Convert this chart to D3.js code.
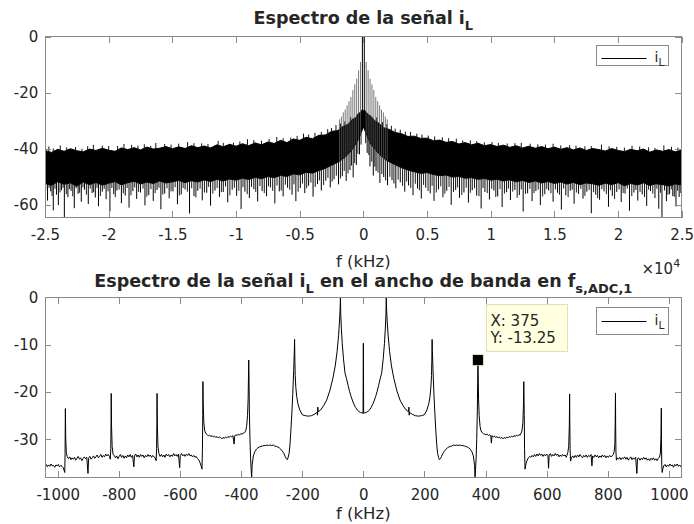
<!DOCTYPE html>
<html>
<head>
<meta charset="utf-8">
<script src="https://cdn.jsdelivr.net/npm/d3@7"></script>
<style>
  body { margin: 0; background: #fff; }
  text { font-family: "DejaVu Sans", sans-serif; fill: #262626; }
</style>
</head>
<body>
<svg id="chart" width="694" height="524"></svg>
<script>
// ---------- Full spectrum of i_L (f in kHz, magnitude in dB) ----------
// Dense noise floor: [f, upper edge, lower edge]
const fullBand = [
  [-25000,-40.6,-52.4],[-24500,-41.3,-53.1],[-24000,-40.2,-51.8],[-23500,-40.9,-52.7],[-23000,-40.0,-52.2],
  [-22500,-40.7,-53.4],[-22000,-41.1,-51.9],[-21500,-40.1,-52.8],[-21000,-40.6,-52.0],[-20500,-39.8,-53.0],
  [-20000,-40.5,-52.3],[-19500,-40.9,-51.7],[-19000,-39.7,-52.9],[-18500,-40.3,-52.1],[-18000,-39.6,-51.6],
  [-17500,-40.4,-52.6],[-17000,-39.4,-51.9],[-16500,-40.1,-52.4],[-16000,-39.8,-51.5],[-15500,-39.2,-52.2],
  [-15000,-40.0,-51.8],[-14500,-39.3,-51.3],[-14000,-39.9,-52.1],[-13500,-38.9,-51.4],[-13000,-39.6,-51.9],
  [-12500,-39.0,-51.1],[-12000,-39.7,-51.7],[-11500,-38.6,-50.9],[-11000,-39.3,-51.5],[-10500,-38.4,-50.8],
  [-10000,-39.1,-51.2],[-9500,-38.2,-50.5],[-9000,-38.9,-51.0],[-8500,-37.9,-50.2],[-8000,-38.6,-50.7],
  [-7500,-37.6,-49.9],[-7000,-38.1,-50.3],[-6500,-37.0,-49.5],[-6000,-37.8,-49.9],[-5500,-36.5,-49.0],
  [-5000,-37.0,-49.3],[-4500,-35.9,-48.4],[-4000,-36.4,-48.7],[-3500,-35.2,-47.8],
  [-3000,-35.1,-47.0],[-2500,-33.8,-45.9],[-2000,-33.5,-44.8],[-1600,-32.0,-43.6],[-1200,-31.3,-42.0],
  [-900,-29.6,-40.4],[-600,-28.9,-38.3],[-400,-27.4,-36.8],[-200,-27.0,-34.6],[-80,-26.0,-33.2],
  [0,-26.6,-32.0],
  [80,-26.1,-33.0],[200,-26.9,-34.4],[400,-27.8,-36.6],[600,-28.4,-38.5],[900,-30.0,-40.1],
  [1200,-30.8,-41.7],[1600,-32.5,-43.4],[2000,-33.0,-44.6],[2500,-34.2,-45.7],[3000,-34.6,-46.8],
  [3500,-35.6,-47.6],[4000,-35.5,-48.2],[4500,-36.3,-48.8],[5000,-36.2,-48.5],[5500,-37.1,-49.2],
  [6000,-36.9,-49.6],[6500,-37.7,-49.4],[7000,-37.4,-50.1],[7500,-38.3,-49.9],[8000,-37.8,-50.5],
  [8500,-38.6,-50.3],[9000,-38.0,-50.9],[9500,-38.9,-50.6],[10000,-38.5,-51.2],[10500,-39.2,-50.9],
  [11000,-38.7,-51.5],[11500,-39.5,-51.1],[12000,-38.9,-51.8],[12500,-39.7,-51.3],[13000,-39.1,-52.0],
  [13500,-39.8,-51.5],[14000,-39.2,-52.2],[14500,-40.0,-51.7],[15000,-39.4,-52.4],[15500,-40.2,-51.9],
  [16000,-39.6,-52.6],[16500,-40.4,-52.0],[17000,-39.7,-52.8],[17500,-40.6,-52.2],[18000,-39.9,-52.5],
  [18500,-40.3,-53.0],[19000,-40.8,-52.3],[19500,-39.9,-52.8],[20000,-40.6,-52.1],[20500,-41.0,-53.2],
  [21000,-40.2,-52.4],[21500,-40.7,-52.9],[22000,-40.1,-52.2],[22500,-41.2,-53.1],[23000,-40.4,-52.5],
  [23500,-40.9,-52.8],[24000,-40.3,-53.3],[24500,-41.1,-52.6],[25000,-40.5,-52.9]
];

// Deep bins below the noise floor: [f, dB]
const fullDips = [
  [-24800,-58.5],[-24550,-55.2],[-24350,-62.0],[-24100,-56.4],[-23950,-60.1],[-23700,-54.8],[-23480,-64.6],
  [-23200,-57.3],[-22950,-55.0],[-22700,-61.2],[-22400,-56.1],[-22150,-58.9],[-21900,-54.6],[-21600,-59.7],
  [-21300,-55.8],[-21050,-57.4],[-20800,-60.5],[-20500,-55.3],[-20200,-58.0],[-19900,-62.3],[-19600,-56.2],
  [-19350,-54.9],[-19000,-59.4],[-18700,-56.7],[-18400,-61.0],[-18100,-55.1],[-17800,-57.9],[-17500,-55.6],
  [-17150,-60.2],[-16850,-56.5],[-16500,-58.6],[-16200,-54.7],[-15900,-61.6],[-15600,-56.0],[-15250,-57.7],
  [-14950,-55.2],[-14600,-59.8],[-14300,-56.3],[-14000,-54.5],[-13650,-63.1],[-13300,-56.9],[-13000,-55.0],
  [-12650,-58.4],[-12300,-55.7],[-12000,-60.3],[-11650,-54.9],[-11300,-57.2],[-11000,-55.4],[-10650,-59.1],
  [-10300,-54.6],[-9950,-56.8],[-9600,-61.5],[-9300,-55.3],[-8950,-57.6],[-8600,-54.4],[-8300,-58.8],
  [-7950,-55.1],[-7600,-56.9],[-7300,-53.8],[-6950,-59.5],[-6600,-55.2],[-6300,-57.0],[-5950,-53.9],
  [-5600,-56.4],[-5300,-58.7],[-4950,-54.0],[-4600,-55.8],[-4300,-53.2],[-3950,-57.1],[-3600,-52.6],
  [-3300,-54.9],[-2950,-51.4],[-2600,-53.8],[-2300,-50.9],[-1950,-52.7],[-1650,-49.8],[-1350,-51.5],
  [-1050,-47.6],[-800,-50.2],[-550,-45.8],[-300,-42.0],
  [300,-41.5],[520,-46.3],[780,-49.6],[1000,-47.9],[1300,-52.2],[1600,-50.1],[1900,-53.0],[2250,-51.2],
  [2550,-54.1],[2900,-52.0],[3250,-55.3],[3550,-53.1],[3900,-56.6],[4250,-54.2],[4550,-57.8],[4900,-53.9],
  [5250,-55.9],[5550,-58.6],[5900,-54.5],[6250,-57.3],[6550,-55.0],[6900,-60.0],[7250,-54.7],[7550,-57.5],
  [7900,-55.6],[8250,-59.2],[8550,-54.8],[8900,-56.7],[9250,-61.3],[9550,-55.4],[9900,-58.1],[10250,-54.9],
  [10550,-57.0],[10900,-60.8],[11250,-55.5],[11550,-58.3],[11900,-54.7],[12250,-56.5],[12550,-62.4],
  [12900,-55.9],[13250,-58.7],[13550,-55.1],[13900,-60.1],[14250,-56.2],[14550,-54.9],[14900,-58.9],
  [15250,-55.7],[15550,-61.7],[15900,-56.6],[16250,-55.0],[16550,-59.6],[16900,-56.1],[17250,-57.8],
  [17550,-55.3],[17900,-63.0],[18250,-56.4],[18550,-58.2],[18900,-55.2],[19250,-60.7],[19550,-56.8],
  [19900,-55.4],[20250,-59.0],[20550,-56.0],[20900,-62.1],[21250,-55.6],[21550,-58.5],[21900,-56.3],
  [22250,-60.4],[22550,-55.1],[22900,-57.6],[23200,-61.4],[23450,-64.6],[23800,-58.7],[24050,-56.2],
  [24300,-56.9],[24550,-60.6],[24800,-57.2]
];

// Shorter bins just under the floor: [f, dB]
const fullShallowDips = [
  [-24950,-55.1],[-24680,-54.0],[-24450,-56.8],[-24220,-54.3],[-23820,-55.6],[-23580,-53.9],[-23330,-56.2],
  [-23080,-54.4],[-22820,-57.0],[-22560,-54.1],[-22280,-55.7],[-22020,-53.8],[-21750,-56.4],[-21450,-54.2],
  [-21180,-55.5],[-20920,-53.9],[-20650,-56.9],[-20350,-54.3],[-20050,-55.2],[-19750,-54.0],[-19480,-57.3],
  [-19180,-54.6],[-18850,-55.9],[-18550,-54.0],[-18250,-56.6],[-17950,-53.8],[-17650,-55.4],[-17300,-54.2],
  [-17000,-57.1],[-16680,-54.4],[-16350,-55.8],[-16050,-53.9],[-15750,-56.3],[-15420,-54.1],[-15100,-55.2],
  [-14780,-53.7],[-14450,-56.7],[-14150,-54.0],[-13820,-55.3],[-13480,-54.1],[-13150,-57.4],[-12820,-54.2],
  [-12480,-55.6],[-12150,-53.6],[-11820,-56.0],[-11480,-54.0],[-11150,-55.5],[-10820,-53.5],[-10480,-56.6],
  [-10130,-53.9],[-9780,-55.0],[-9450,-53.7],[-9120,-56.2],[-8780,-53.6],[-8450,-55.4],[-8120,-53.3],
  [-7780,-55.8],[-7450,-53.4],[-7120,-55.0],[-6780,-53.1],[-6450,-54.9],[-6120,-52.8],[-5780,-54.6],
  [-5450,-52.7],[-5120,-55.3],[-4780,-52.4],[-4450,-54.1],[-4120,-52.1],[-3780,-53.6],[-3450,-51.3],
  [-3120,-52.9],[-2780,-50.4],[-2450,-51.7],[-2120,-49.6],[-1800,-50.6],[-1500,-47.9],[-1200,-48.8],
  [-930,-46.0],[-680,-45.1],[-430,-41.8],[-180,-38.5],
  [180,-38.0],[430,-42.2],[660,-44.6],[900,-46.4],[1150,-48.5],[1450,-49.0],[1750,-51.3],[2080,-50.0],
  [2400,-52.4],[2730,-51.0],[3080,-53.2],[3400,-51.7],[3720,-54.0],[4080,-52.5],[4400,-54.8],[4730,-52.9],
  [5080,-55.1],[5400,-53.2],[5730,-55.6],[6080,-53.4],[6400,-56.0],[6730,-53.6],[7080,-55.4],[7400,-53.8],
  [7730,-56.5],[8080,-53.9],[8400,-55.7],[8730,-54.1],[9080,-56.9],[9400,-54.0],[9730,-55.8],[10080,-54.3],
  [10400,-57.2],[10730,-54.4],[11080,-56.0],[11400,-54.2],[11730,-55.3],[12080,-57.5],[12400,-54.5],
  [12730,-56.1],[13080,-54.3],[13400,-55.8],[13730,-54.6],[14080,-57.0],[14400,-54.4],[14730,-55.9],
  [15080,-54.5],[15400,-56.4],[15730,-54.2],[16080,-57.3],[16400,-54.6],[16730,-55.6],[17080,-54.3],
  [17400,-56.8],[17730,-54.7],[18080,-55.5],[18400,-57.6],[18730,-54.4],[19080,-56.2],[19400,-54.8],
  [19730,-57.9],[20080,-54.5],[20400,-55.8],[20730,-54.2],[21080,-56.9],[21400,-54.7],[21730,-55.4],
  [22080,-57.2],[22400,-54.6],[22730,-56.0],[23050,-54.3],[23330,-55.7],[23650,-54.9],[23920,-56.4],
  [24180,-54.5],[24420,-57.1],[24680,-55.0],[24930,-55.8]
];

// Bins poking above the noise floor: [f, dB]
const fullRises = [
  [-24700,-39.2],[-24350,-39.9],[-23800,-38.8],[-23300,-39.5],[-22600,-39.4],[-22100,-40.0],[-21650,-39.1],
  [-21200,-38.6],[-20500,-38.9],[-20000,-39.0],[-19300,-39.0],[-18800,-38.3],[-18200,-38.6],[-17700,-38.9],
  [-17200,-38.4],[-16700,-39.0],[-16300,-37.9],[-15600,-38.3],[-15100,-38.5],[-14500,-38.2],[-13800,-37.6],
  [-13300,-38.0],[-12700,-38.1],[-12200,-38.3],[-11400,-37.2],[-11000,-37.9],[-10200,-37.8],[-9700,-37.4],
  [-9100,-36.6],[-8600,-36.9],[-8000,-37.1],[-7400,-36.5],[-6800,-35.8],[-6300,-36.2],[-5700,-36.0],
  [-5200,-35.4],[-4700,-34.6],[-4300,-34.9],[-3800,-34.3],[-3300,-34.0],[-2800,-33.0],[-2500,-32.6],
  [-2150,-31.5],[-1800,-31.0],[-1450,-30.2],[-1000,-28.6],
  [1050,-28.8],[1500,-30.5],[1850,-31.2],[2200,-31.8],[2500,-32.8],[2900,-33.2],[3300,-33.9],[3700,-34.0],
  [4200,-34.6],[4600,-34.9],[5100,-35.3],[5600,-35.6],[6200,-35.9],[6700,-36.2],[7300,-36.4],[7800,-37.0],
  [8400,-37.0],[8900,-37.3],[9500,-37.7],[10100,-37.6],[10600,-37.9],[11300,-38.1],[11900,-38.0],
  [12400,-37.9],[13100,-38.2],[13700,-38.4],[14300,-38.5],[14900,-38.2],[15500,-38.8],[16200,-38.7],
  [16700,-38.9],[17400,-39.1],[17900,-39.0],[18700,-38.5],[19300,-39.1],[19900,-39.3],[20500,-39.6],
  [21100,-38.9],[21700,-39.2],[22400,-39.5],[22900,-39.7],[23600,-38.8],[24200,-39.3],[24700,-39.6]
];

// Switching harmonics around the carrier: [f, dB]
const fullHarmonics = [
  [-1875,-29.5],[-1725,-28.5],[-1575,-27.0],[-1425,-26.0],[-1275,-24.5],[-1125,-23.0],[-975,-21.5],
  [-825,-19.0],[-675,-17.0],[-525,-15.0],[-375,-12.0],[-225,-9.0],[-75,0],
  [75,0],[225,-9.0],[375,-12.0],[525,-15.0],[675,-17.0],[825,-19.0],[975,-21.5],[1125,-23.0],
  [1275,-24.5],[1425,-26.0],[1575,-27.0],[1725,-28.5],[1875,-29.5]
];

// ---------- Spectrum of i_L within the ADC bandwidth: [f (kHz), dB] ----------
const bandSpectrum = [
  [-1041.7,-35.6],[-1038,-35.3],[-1034,-35.8],[-1030,-35.4],[-1026,-35.7],[-1022,-35.2],[-1018,-35.6],
  [-1014,-35.5],[-1010,-35.9],[-1006,-35.4],[-1002,-35.6],[-998,-35.3],[-994,-35.8],[-990,-35.5],
  [-986,-35.7],[-982,-36.0],[-979,-36.6],[-977,-37.0],[-976,-33.0],[-975.5,-28.0],[-975,-23.5],
  [-974,-29.5],[-972,-32.8],[-969,-33.6],
  [-965,-34.1],[-961,-33.7],[-957,-34.3],[-953,-33.9],[-949,-34.2],[-945,-33.8],[-941,-34.4],[-937,-34.0],
  [-933,-33.6],[-929,-34.2],[-925,-33.9],[-921,-34.5],[-917,-34.0],[-913,-33.7],[-909,-34.1],[-905,-33.8],
  [-901,-37.2],[-899,-34.0],[-895,-33.6],[-891,-34.2],[-887,-33.9],[-883,-33.5],[-879,-34.0],[-875,-33.7],
  [-871,-33.3],[-867,-33.9],[-863,-33.6],[-859,-33.2],[-855,-33.8],[-851,-33.4],[-847,-33.7],[-843,-33.1],
  [-839,-33.5],[-835,-33.2],[-831,-33.6],[-828,-34.2],[-826.5,-32.0],[-825.5,-26.0],[-825,-20.3],
  [-824,-27.0],[-822,-31.5],[-819,-33.2],
  [-815,-33.4],[-811,-33.9],[-807,-33.5],[-803,-34.1],[-799,-33.6],[-795,-33.2],[-791,-33.8],[-787,-33.4],
  [-783,-34.0],[-779,-33.5],[-775,-33.9],[-771,-33.3],[-767,-33.7],[-763,-33.2],[-759,-33.8],[-755,-33.4],
  [-751,-35.8],[-749,-33.5],[-745,-33.1],[-741,-33.7],[-737,-33.3],[-733,-33.8],[-729,-33.2],[-725,-33.6],
  [-721,-33.3],[-717,-33.9],[-713,-33.4],[-709,-33.7],[-705,-33.2],[-701,-33.6],[-697,-33.3],[-693,-33.8],
  [-689,-33.4],[-685,-33.7],[-681,-33.9],[-678,-34.5],[-676.5,-32.0],[-675.5,-26.0],[-675,-20.3],
  [-674,-27.0],[-672,-31.5],[-669,-33.0],
  [-665,-33.6],[-661,-33.2],[-657,-33.7],[-653,-33.3],[-649,-33.8],[-645,-33.1],[-641,-33.5],[-637,-33.2],
  [-633,-33.7],[-629,-33.3],[-625,-33.6],[-621,-33.0],[-617,-33.5],[-613,-33.2],[-609,-33.6],[-605,-33.1],
  [-601,-36.0],[-599,-33.4],[-595,-33.0],[-591,-33.5],[-587,-33.2],[-583,-33.6],[-579,-33.1],[-575,-33.4],
  [-571,-33.0],[-567,-33.5],[-563,-33.3],[-559,-33.7],[-555,-33.4],[-551,-33.8],[-547,-33.6],[-543,-34.0],
  [-539,-34.3],[-535,-34.8],[-531,-35.6],[-528,-36.3],[-526.5,-32.0],[-525.5,-25.0],[-525,-17.8],
  [-524,-22.5],[-522,-26.5],[-519,-28.2],[-515,-28.8],
  [-511,-29.0],[-507,-29.3],[-503,-29.1],[-499,-29.4],[-495,-29.2],[-491,-29.5],[-487,-29.3],[-483,-29.6],
  [-479,-29.4],[-475,-29.7],[-471,-29.5],[-467,-29.6],[-463,-29.9],[-459,-29.6],[-455,-29.8],[-451,-29.5],
  [-447,-29.7],[-443,-29.4],[-439,-29.6],[-435,-29.3],[-431,-29.5],[-427,-29.2],[-423,-31.0],[-421,-29.3],
  [-417,-29.0],[-413,-29.2],[-409,-28.9],[-405,-29.1],[-401,-28.8],[-397,-28.9],[-393,-28.7],[-389,-28.6],
  [-385,-28.2],[-382,-27.3],[-379,-25.0],[-377,-21.5],[-375,-13.25],[-374,-18.0],[-373,-24.0],[-371,-30.0],
  [-369,-34.0],[-367,-36.5],[-365.5,-38.1],[-364,-35.5],
  [-360,-33.5],[-355,-32.6],[-350,-32.1],[-345,-31.8],[-340,-31.6],[-335,-31.5],[-330,-31.4],[-325,-31.3],
  [-320,-31.3],[-315,-31.2],[-310,-31.3],[-305,-31.2],[-300,-31.3],[-295,-31.2],[-290,-31.4],[-285,-31.5],
  [-280,-31.6],[-275,-31.8],[-270,-32.1],[-265,-32.5],[-260,-33.0],[-256,-33.6],[-252,-34.1],[-249,-34.3],
  [-246,-33.8],[-243,-33.0],[-240,-31.0],[-237,-28.0],[-234,-24.5],[-231,-20.5],[-228,-15.5],[-226,-11.5],
  [-225,-8.9],[-224,-13.5],[-223,-16.5],[-221,-19.0],[-218,-21.0],[-214,-22.5],[-208,-23.8],[-200,-24.8],
  [-190,-25.0],[-180,-25.1],[-170,-25.0],[-160,-24.7],[-151,-24.3],[-150,-24.9],[-149,-23.2],[-148,-24.2],
  [-140,-23.8],[-130,-22.9],[-120,-21.7],[-110,-19.8],[-100,-17.2],[-92,-14.5],[-86,-11.5],[-81,-8.0],
  [-78,-5.0],[-76,-2.5],[-75,0],[-74,-3.5],[-72,-6.5],[-69,-9.8],[-65,-13.0],[-60,-16.0],[-55,-17.2],
  [-50,-18.6],[-45,-19.9],[-40,-21.0],[-35,-21.9],[-30,-22.7],[-25,-23.3],[-20,-23.8],[-15,-24.1],
  [-10,-24.3],[-5,-24.4],[-1,-24.5],[0,-9.7],[1,-24.5],
  [5,-24.4],[10,-24.3],[15,-24.1],[20,-23.8],[25,-23.3],[30,-22.7],[35,-21.9],[40,-21.0],[45,-19.9],
  [50,-18.6],[55,-17.2],[60,-16.0],[65,-13.0],[69,-9.8],[72,-6.5],[74,-3.5],[75,0],[76,-2.5],[78,-5.0],
  [81,-8.0],[86,-11.5],[92,-14.5],[100,-17.2],[110,-19.8],[120,-21.7],[130,-22.9],[140,-23.8],[148,-24.2],
  [149,-23.2],[150,-24.9],[151,-24.3],[160,-24.7],[170,-25.0],[180,-25.1],[190,-25.0],[200,-24.8],
  [208,-23.8],[214,-22.5],[218,-21.0],[221,-19.0],[223,-16.5],[224,-13.5],[225,-8.9],[226,-11.5],
  [228,-15.5],[231,-20.5],[234,-24.5],[237,-28.0],[240,-31.0],[243,-33.0],[246,-33.8],[249,-34.3],
  [252,-34.1],[256,-33.6],[260,-33.0],[265,-32.5],[270,-32.1],[275,-31.8],[280,-31.6],[285,-31.5],
  [290,-31.4],[295,-31.2],[300,-31.3],[305,-31.2],[310,-31.3],[315,-31.2],[320,-31.3],[325,-31.3],
  [330,-31.4],[335,-31.5],[340,-31.6],[345,-31.8],[350,-32.1],[355,-32.6],[360,-33.5],[364,-35.5],
  [365.5,-38.1],[367,-36.5],[369,-34.0],[371,-30.0],[373,-24.0],[374,-18.0],[375,-13.25],[377,-21.5],
  [379,-25.0],[382,-27.3],[385,-28.2],[389,-28.6],[393,-28.8],[397,-28.9],[401,-29.0],[405,-28.9],
  [409,-29.2],[413,-29.0],[417,-29.3],[419,-30.8],[421,-29.2],[425,-29.5],[429,-29.3],[433,-29.6],
  [437,-29.4],[441,-29.7],[445,-29.5],[449,-29.8],[453,-29.6],[457,-29.9],[461,-29.6],[465,-29.8],
  [469,-29.5],[473,-29.7],[477,-29.4],[481,-29.6],[485,-29.3],[489,-29.5],[493,-29.2],[497,-29.4],
  [501,-29.1],[505,-29.3],[509,-29.0],[513,-29.1],[516,-28.7],[519,-28.2],[522,-26.5],[524,-22.5],
  [525,-17.8],[526.5,-25.0],[527.5,-32.0],[529,-36.3],[532,-35.2],[536,-34.4],[540,-33.9],[544,-33.6],
  [548,-33.8],[552,-33.4],[556,-33.7],[560,-33.2],[564,-33.6],[568,-33.1],[572,-33.5],[576,-33.0],
  [580,-33.4],[584,-33.1],[588,-33.6],[592,-33.2],[596,-33.5],[600,-33.1],[604,-33.4],[606,-36.1],
  [608,-33.3],[612,-33.0],[616,-33.6],[620,-33.2],[624,-33.5],[628,-33.0],[632,-33.4],[636,-33.1],
  [640,-33.7],[644,-33.3],[648,-33.6],[652,-33.2],[656,-33.5],[660,-33.3],[664,-33.8],[666,-33.4],
  [669,-32.8],[672,-31.5],[674,-27.0],[675,-20.4],[675.5,-26.0],[676.5,-32.0],[678,-34.6],[681,-33.9],
  [685,-33.5],[689,-33.9],[693,-33.4],[697,-33.8],[701,-33.3],[705,-33.7],[709,-33.2],[713,-33.6],
  [717,-33.9],[721,-33.4],[725,-33.7],[729,-33.3],[733,-33.8],[737,-33.4],[741,-33.6],[745,-33.2],
  [748,-35.6],[750,-33.5],[754,-33.8],[758,-33.3],[762,-33.7],[766,-33.4],[770,-33.9],[774,-33.5],
  [778,-33.8],[782,-33.3],[786,-33.7],[790,-33.4],[794,-33.9],[798,-33.5],[802,-33.8],[806,-33.4],
  [810,-33.7],[814,-33.5],[818,-33.2],[821,-32.5],[823,-31.0],[824,-27.0],[825,-20.2],[825.5,-26.5],
  [826.5,-32.5],[828,-34.4],[831,-33.9],[835,-34.2],[839,-33.8],[843,-34.3],[847,-33.9],[851,-34.1],
  [855,-33.7],[859,-34.2],[863,-33.8],[867,-34.4],[871,-34.0],[875,-33.7],[879,-34.3],[883,-33.9],
  [887,-34.2],[891,-33.8],[895,-37.2],[897,-34.1],[901,-33.9],[905,-34.4],[909,-34.0],[913,-34.3],
  [917,-33.8],[921,-34.2],[925,-33.9],[929,-34.4],[933,-34.1],[937,-34.5],[941,-34.0],[945,-34.3],
  [949,-33.9],[953,-34.4],[957,-34.1],[961,-34.5],[965,-34.0],[969,-33.8],[972,-32.9],[974,-29.0],
  [975,-23.4],[975.5,-30.0],[976.5,-35.5],[978,-37.0],[980,-36.2],[983,-35.6],[987,-35.3],[991,-35.8],
  [995,-35.4],[999,-35.7],[1003,-35.2],[1007,-35.6],[1011,-35.4],[1015,-35.9],[1019,-35.3],[1023,-35.6],
  [1027,-35.2],[1031,-35.7],[1035,-35.4],[1039,-35.8],[1041.7,-35.5]
];

// Data cursor on the third harmonic
const cursorPoint = [375, -13.25];

// Axis ticks
const fullXTicks = [-25000,-20000,-15000,-10000,-5000,0,5000,10000,15000,20000,25000];
const fullYTicks = [0,-20,-40,-60];
const bandXTicks = [-1000,-800,-600,-400,-200,0,200,400,600,800,1000];
const bandYTicks = [0,-10,-20,-30];

// ---------- Drawing ----------
const svg = d3.select("#chart");
const AX = "#8a8a8a";
const left = 45, right = 681.7;

const xFull = d3.scaleLinear().domain([-25000, 25000]).range([left, right]);
const yFull = d3.scaleLinear().domain([-64.6, 0]).range([217.7, 36.7]);
const xBand = d3.scaleLinear().domain([-1041.7, 1041.7]).range([left, right]);
const yBand = d3.scaleLinear().domain([-38.1, 0]).range([477.7, 297.3]);

function clip(id, x, y) {
  svg.append("clipPath").attr("id", id).append("rect")
    .attr("x", x.range()[0]).attr("y", y.range()[1])
    .attr("width", x.range()[1] - x.range()[0])
    .attr("height", y.range()[0] - y.range()[1]);
}
clip("clipFull", xFull, yFull);
clip("clipBand", xBand, yBand);

function frame(x, y, xt, yt, fmt) {
  const [x0, x1] = x.range(), [yb, ytop] = y.range();
  const g = svg.append("g");
  const style = sel => {
    sel.select(".domain").remove();
    sel.selectAll(".tick line").attr("stroke", AX).attr("shape-rendering", "crispEdges");
    sel.selectAll(".tick text").attr("font-size", 15).attr("fill", "#262626");
  };
  g.append("g").attr("transform", `translate(0,${yb})`)
    .call(d3.axisBottom(x).tickValues(xt).tickSize(-6.4).tickPadding(11.6).tickFormat(fmt)).call(style);
  g.append("g").attr("transform", `translate(0,${ytop})`)
    .call(d3.axisTop(x).tickValues(xt).tickSize(-6.4).tickFormat("")).call(style);
  g.append("g").attr("transform", `translate(${x0},0)`)
    .call(d3.axisLeft(y).tickValues(yt).tickSize(-6.4).tickPadding(6.7).tickFormat(d => String(d))).call(style);
  g.append("g").attr("transform", `translate(${x1},0)`)
    .call(d3.axisRight(y).tickValues(yt).tickSize(-6.4).tickFormat("")).call(style);
  g.selectAll("text").attr("font-family", "DejaVu Sans, sans-serif");
  g.append("rect").attr("x", x0).attr("y", ytop).attr("width", x1 - x0).attr("height", yb - ytop)
    .attr("fill", "none").attr("stroke", AX).attr("shape-rendering", "crispEdges");
}

// Linear lookup of the noise-floor edges at any frequency
const bis = d3.bisector(d => d[0]).left;
function edge(f, k) {
  const i = Math.max(1, Math.min(fullBand.length - 1, bis(fullBand, f)));
  const a = fullBand[i - 1], b = fullBand[i];
  const t = (f - a[0]) / (b[0] - a[0]);
  return a[k] + t * (b[k] - a[k]);
}

function stems(g, data, from, cls, color, width) {
  g.selectAll("line." + cls).data(data).join("line").attr("class", cls)
    .attr("x1", d => xFull(d[0])).attr("x2", d => xFull(d[0]))
    .attr("y1", d => yFull(edge(d[0], from))).attr("y2", d => yFull(d[1]))
    .attr("stroke", color).attr("stroke-width", width);
}

// ----- Top panel: full spectrum -----
const gFull = svg.append("g").attr("clip-path", "url(#clipFull)");
gFull.append("path").datum(fullBand)
  .attr("d", d3.area().x(d => xFull(d[0])).y0(d => yFull(d[2])).y1(d => yFull(d[1])))
  .attr("fill", "#000").attr("stroke", "#000").attr("stroke-width", 1);
stems(gFull, fullShallowDips, 2, "sdip", "#1a1a1a", 1);
stems(gFull, fullDips, 2, "dip", "#000", 1);
stems(gFull, fullRises, 1, "rise", "#111", 1);
gFull.selectAll("line.harm").data(fullHarmonics).join("line").attr("class", "harm")
  .attr("x1", d => xFull(d[0])).attr("x2", d => xFull(d[0]))
  .attr("y1", d => yFull(edge(d[0], 2))).attr("y2", d => yFull(d[1]))
  .attr("stroke", d => d[1] === 0 ? "#000" : "#555")
  .attr("stroke-width", d => d[1] === 0 ? 1 : 0.8);

frame(xFull, yFull, fullXTicks, fullYTicks, d => String(d / 1e4));

// ----- Bottom panel: ADC bandwidth -----
const gBand = svg.append("g").attr("clip-path", "url(#clipBand)");
gBand.append("path").datum(bandSpectrum)
  .attr("d", d3.line().x(d => xBand(d[0])).y(d => yBand(d[1])))
  .attr("fill", "none").attr("stroke", "#000").attr("stroke-width", 1);

frame(xBand, yBand, bandXTicks, bandYTicks, d => String(d));

// ----- Titles and labels -----
const cx = (left + right) / 2;
const t1 = svg.append("text").attr("x", cx).attr("y", 23.5).attr("text-anchor", "middle")
  .attr("font-size", 17.5).attr("font-weight", "bold");
t1.append("tspan").text("Espectro de la señal i");
t1.append("tspan").attr("dy", 6.5).attr("font-size", 13).text("L");

const t2 = svg.append("text").attr("x", cx).attr("y", 286.5).attr("text-anchor", "middle")
  .attr("font-size", 17.5).attr("font-weight", "bold");
t2.append("tspan").text("Espectro de la señal i");
t2.append("tspan").attr("dy", 6.5).attr("font-size", 13).text("L");
t2.append("tspan").attr("dy", -6.5).text(" en el ancho de banda en f");
t2.append("tspan").attr("dy", 6.5).attr("font-size", 13).text("s,ADC,1");

svg.append("text").attr("x", cx).attr("y", 267).attr("text-anchor", "middle")
  .attr("font-size", 16.5).text("f (kHz)");
svg.append("text").attr("x", cx).attr("y", 518.5).attr("text-anchor", "middle")
  .attr("font-size", 16.5).text("f (kHz)");

const ex = svg.append("text").attr("x", 641.5).attr("y", 274.3).attr("font-size", 15);
ex.append("tspan").text("×10");
ex.append("tspan").attr("dy", -7.5).attr("font-size", 11).text("4");

// ----- Legends -----
function legend(x0, y0, w, h, ly) {
  const g = svg.append("g");
  g.append("rect").attr("x", x0).attr("y", y0).attr("width", w).attr("height", h)
    .attr("fill", "#fff").attr("stroke", AX).attr("shape-rendering", "crispEdges");
  g.append("line").attr("x1", x0 + 5).attr("x2", x0 + 50).attr("y1", ly).attr("y2", ly)
    .attr("stroke", "#000").attr("stroke-width", 1);
  const t = g.append("text").attr("x", x0 + 58).attr("y", ly + 3.5).attr("font-size", 14);
  t.append("tspan").text("i");
  t.append("tspan").attr("dy", 4).attr("font-size", 10.5).text("L");
}
legend(596.5, 45.5, 72, 19.5, 58.5);
legend(596.5, 307.5, 72, 26.5, 321.5);

// ----- Data cursor -----
const px = xBand(cursorPoint[0]), py = yBand(cursorPoint[1]);
svg.append("rect").attr("x", 486.5).attr("y", 304.5).attr("width", 81).attr("height", 47)
  .attr("fill", "#ffffe1").attr("stroke", "#e3ddb8");
svg.append("text").attr("x", 490.5).attr("y", 325.7).attr("font-size", 15).attr("fill", "#1a1a1a")
  .text("X: " + cursorPoint[0]);
svg.append("text").attr("x", 490.5).attr("y", 343.3).attr("font-size", 15).attr("fill", "#1a1a1a")
  .text("Y: " + cursorPoint[1]);
svg.append("rect").attr("x", px - 5.3).attr("y", py - 5.3).attr("width", 10.6).attr("height", 10.6)
  .attr("fill", "#000").attr("stroke", "#f2ecc0").attr("stroke-width", 0.6);
</script>
</body>
</html>
